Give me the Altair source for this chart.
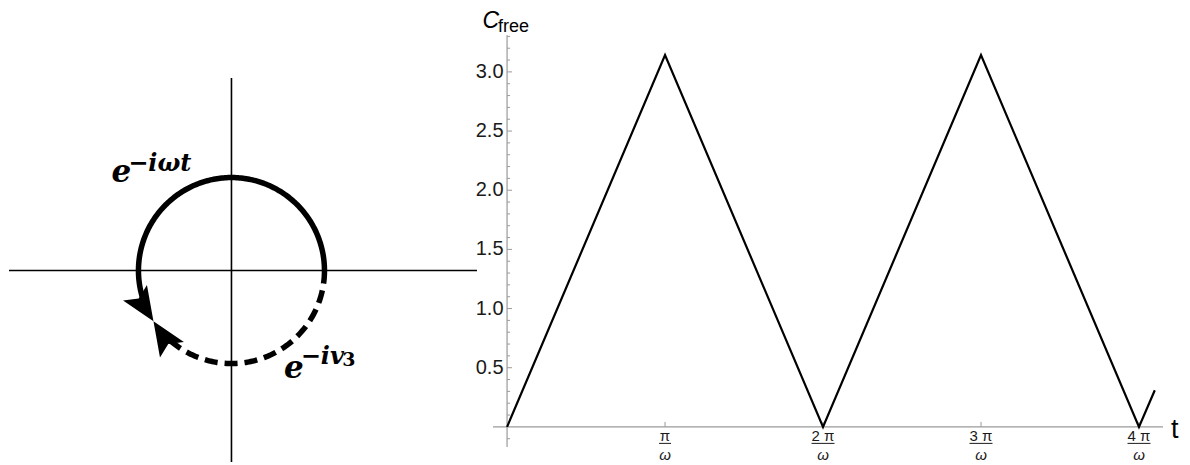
import math
import altair as alt
import pandas as pd

# ---------------- data (right panel) ----------------
t_over_pi = [0.0, 1.0, 2.0, 3.0, 4.0, 4.1]          # t in units of pi/omega
c_free = [0.0, 3.1416, 0.0, 3.1416, 0.0, 0.31]

y_tick_values = [0.5, 1.0, 1.5, 2.0, 2.5, 3.0]
y_tick_labels = ["0.5", "1.0", "1.5", "2.0", "2.5", "3.0"]
y_minor_values = [-0.1, 0.1, 0.2, 0.3, 0.4, 0.6, 0.7, 0.8, 0.9, 1.1, 1.2, 1.3, 1.4,
                  1.6, 1.7, 1.8, 1.9, 2.1, 2.2, 2.3, 2.4, 2.6, 2.7, 2.8, 2.9, 3.1, 3.2, 3.3]
x_tick_values = [1, 2, 3, 4]
x_tick_numerators = ["π", "2 π", "3 π", "4 π"]
x_tick_denominators = ["ω", "ω", "ω", "ω"]

# ---------------- data (left diagram, unit circle) ----------------
solid_arc_end_deg = 203     # counter-clockwise from 0
dashed_arc_end_deg = -137   # clockwise from 0
arrow_tip_deg = 213
label_e1 = {"base": "e", "sup": "−iωt"}
label_e2 = {"base": "e", "sup": "−iv", "sub": "3"}

# ---------------- layout constants ----------------
T_DOMAIN = [-0.089, 4.152]
C_DOMAIN = [-0.17, 3.54]
C_AXIS_TOP = 3.31
W_R, H = 670, 439

X_DOMAIN = [-2.392, 2.64]
Y_DOMAIN = [-1.897, 2.823]
W_L = 468
V_AXIS = [-2.059, 2.07]

AX = "#9a9a9a"
LBL = "#1a1a1a"
SANS = "Liberation Sans, Arial, sans-serif"
SERIF = "DejaVu Serif, serif"

xs = alt.Scale(domain=T_DOMAIN, nice=False, zero=False)
ys = alt.Scale(domain=C_DOMAIN, nice=False, zero=False)


def RX(f):
    return alt.X(f, type="quantitative", scale=xs, axis=None)


def RY(f):
    return alt.Y(f, type="quantitative", scale=ys, axis=None)


df_line = pd.DataFrame({"t": t_over_pi, "c": c_free})
df_xaxis = pd.DataFrame({"x": [T_DOMAIN[0]], "x2": [T_DOMAIN[1]], "y": [0.0]})
df_yaxis = pd.DataFrame({"x": [0.0], "y": [C_DOMAIN[0]], "y2": [C_AXIS_TOP]})
df_ymaj = pd.DataFrame({"x": 0.0, "v": y_tick_values, "lab": y_tick_labels})
df_ymin = pd.DataFrame({"x": 0.0, "v": y_minor_values})
df_xt = pd.DataFrame({"k": x_tick_values, "y": 0.0, "num": x_tick_numerators,
                      "den": x_tick_denominators})
df_top = pd.DataFrame({"x": [0.0], "y": [C_AXIS_TOP]})
df_tlab = pd.DataFrame({"x": [T_DOMAIN[1]], "y": [0.0]})

r_xaxis = alt.Chart(df_xaxis).mark_rule(color=AX, strokeWidth=1.2).encode(
    x=RX("x"), x2="x2:Q", y=RY("y"))
r_yaxis = alt.Chart(df_yaxis).mark_rule(color=AX, strokeWidth=1.2).encode(
    x=RX("x"), y=RY("y"), y2="y2:Q")
r_ymaj = alt.Chart(df_ymaj).mark_rule(color=AX, strokeWidth=1, x2Offset=5).encode(
    x=RX("x"), x2="x:Q", y=RY("v"))
r_ymin = alt.Chart(df_ymin).mark_rule(color=AX, strokeWidth=1, x2Offset=3).encode(
    x=RX("x"), x2="x:Q", y=RY("v"))
r_xmaj = alt.Chart(df_xt).mark_rule(color=AX, strokeWidth=1, y2Offset=-5).encode(
    x=RX("k"), y=RY("y"), y2="y:Q")
r_line = alt.Chart(df_line).mark_line(color="black", strokeWidth=2.2).encode(
    x=RX("t"), y=RY("c"))
r_ylab = alt.Chart(df_ymaj).mark_text(align="right", baseline="middle", dx=-3.5,
                                      fontSize=20, font=SANS, color=LBL).encode(
    x=RX("x"), y=RY("v"), text="lab:N")
r_num = alt.Chart(df_xt).mark_text(align="center", baseline="alphabetic", dy=14,
                                   fontSize=15, font=SANS, color=LBL).encode(
    x=RX("k"), y=RY("y"), text="num:N")
r_bar1 = alt.Chart(df_xt).transform_filter("datum.k == 1").mark_rule(
    color=LBL, strokeWidth=1, xOffset=-6, x2Offset=6, yOffset=16.5).encode(
    x=RX("k"), x2="k:Q", y=RY("y"))
r_bar2 = alt.Chart(df_xt).transform_filter("datum.k > 1").mark_rule(
    color=LBL, strokeWidth=1, xOffset=-11.5, x2Offset=11.5, yOffset=16.5).encode(
    x=RX("k"), x2="k:Q", y=RY("y"))
r_den = alt.Chart(df_xt).mark_text(align="center", baseline="alphabetic", dy=33,
                                   fontSize=15, font=SANS, fontStyle="italic",
                                   color=LBL).encode(
    x=RX("k"), y=RY("y"), text="den:N")
r_C = alt.Chart(df_top).mark_text(text="C", align="left", baseline="alphabetic",
                                  dx=-24.5, dy=-7, fontSize=23, font=SANS,
                                  fontStyle="italic", color="black").encode(
    x=RX("x"), y=RY("y"))
r_free = alt.Chart(df_top).mark_text(text="free", align="left", baseline="alphabetic",
                                     dx=-9, dy=-3.5, fontSize=18, font=SANS,
                                     color="black").encode(
    x=RX("x"), y=RY("y"))
r_t = alt.Chart(df_tlab).mark_text(text="t", align="left", baseline="alphabetic",
                                   dx=8, dy=11, fontSize=27, font=SANS,
                                   color="black").encode(
    x=RX("x"), y=RY("y"))

right = alt.layer(r_xaxis, r_yaxis, r_ymin, r_ymaj, r_xmaj, r_line, r_ylab,
                  r_num, r_bar1, r_bar2, r_den, r_C, r_free, r_t).properties(
    width=W_R, height=H)

# ---------------- left diagram ----------------
lxs = alt.Scale(domain=X_DOMAIN, nice=False, zero=False)
lys = alt.Scale(domain=Y_DOMAIN, nice=False, zero=False)


def LX(f):
    return alt.X(f, type="quantitative", scale=lxs, axis=None)


def LY(f):
    return alt.Y(f, type="quantitative", scale=lys, axis=None)


def arc(a0, a1, step):
    n = int(round(abs(a1 - a0) / step))
    angs = [a0 + (a1 - a0) * i / n for i in range(n + 1)]
    return pd.DataFrame({
        "i": list(range(n + 1)),
        "x": [math.cos(math.radians(a)) for a in angs],
        "y": [math.sin(math.radians(a)) for a in angs],
    })


df_solid = arc(0, solid_arc_end_deg, 1)
df_dashed = arc(0, dashed_arc_end_deg, 1)
tip = {"x": [math.cos(math.radians(arrow_tip_deg))],
       "y": [math.sin(math.radians(arrow_tip_deg))]}
df_tip = pd.DataFrame(tip)
ang_solid = (-arrow_tip_deg) % 360
ang_dashed = (180 - arrow_tip_deg) % 360
ARROW = "M0,0L0.42,1L0,0.8L-0.42,1Z"
ARROW_SIZE = 4600

df_h = pd.DataFrame({"x": [X_DOMAIN[0]], "x2": [X_DOMAIN[1]], "y": [0.0]})
df_v = pd.DataFrame({"x": [0.0], "y": [V_AXIS[0]], "y2": [V_AXIS[1]]})

l_h = alt.Chart(df_h).mark_rule(color="black", strokeWidth=1.6).encode(
    x=LX("x"), x2="x2:Q", y=LY("y"))
l_v = alt.Chart(df_v).mark_rule(color="black", strokeWidth=1.6).encode(
    x=LX("x"), y=LY("y"), y2="y2:Q")
l_solid = alt.Chart(df_solid).mark_line(color="black", strokeWidth=5.5).encode(
    x=LX("x"), y=LY("y"), order="i:Q")
l_dashed = alt.Chart(df_dashed).mark_line(color="black", strokeWidth=5.5,
                                          strokeDash=[13, 7]).encode(
    x=LX("x"), y=LY("y"), order="i:Q")
l_arr1 = alt.Chart(df_tip).mark_point(shape=ARROW, size=ARROW_SIZE, filled=True,
                                      color="black", opacity=1, strokeWidth=0,
                                      angle=ang_solid).encode(x=LX("x"), y=LY("y"))
l_arr2 = alt.Chart(df_tip).mark_point(shape=ARROW, size=ARROW_SIZE, filled=True,
                                      color="black", opacity=1, strokeWidth=0,
                                      angle=ang_dashed).encode(x=LX("x"), y=LY("y"))

df_lab = pd.DataFrame({
    "x": [-1.29, -1.11, 0.565, 0.745, 1.19],
    "y": [0.952, 1.075, -1.156, -1.000, -1.025],
    "txt": [label_e1["base"], label_e1["sup"], label_e2["base"], label_e2["sup"],
            label_e2["sub"]],
    "role": ["base", "sup", "base", "sup", "sub"],
})
l_base = alt.Chart(df_lab).transform_filter("datum.role == 'base'").mark_text(
    align="left", baseline="alphabetic", fontSize=31, font=SERIF,
    fontWeight="bold", fontStyle="italic", color="black").encode(
    x=LX("x"), y=LY("y"), text="txt:N")
l_sup = alt.Chart(df_lab).transform_filter("datum.role == 'sup'").mark_text(
    align="left", baseline="alphabetic", fontSize=24, font=SERIF,
    fontWeight="bold", fontStyle="italic", color="black").encode(
    x=LX("x"), y=LY("y"), text="txt:N")
l_sub = alt.Chart(df_lab).transform_filter("datum.role == 'sub'").mark_text(
    align="left", baseline="alphabetic", fontSize=19, font=SERIF,
    fontWeight="bold", color="black").encode(
    x=LX("x"), y=LY("y"), text="txt:N")

left = alt.layer(l_h, l_v, l_solid, l_dashed, l_arr1, l_arr2,
                 l_base, l_sup, l_sub).properties(width=W_L, height=H)

chart = alt.hconcat(left, right, spacing=16, bounds="flush").properties(
    padding=0).configure_view(strokeWidth=0)

chart.save("out.html", embed_options={"renderer": "svg", "actions": False})
